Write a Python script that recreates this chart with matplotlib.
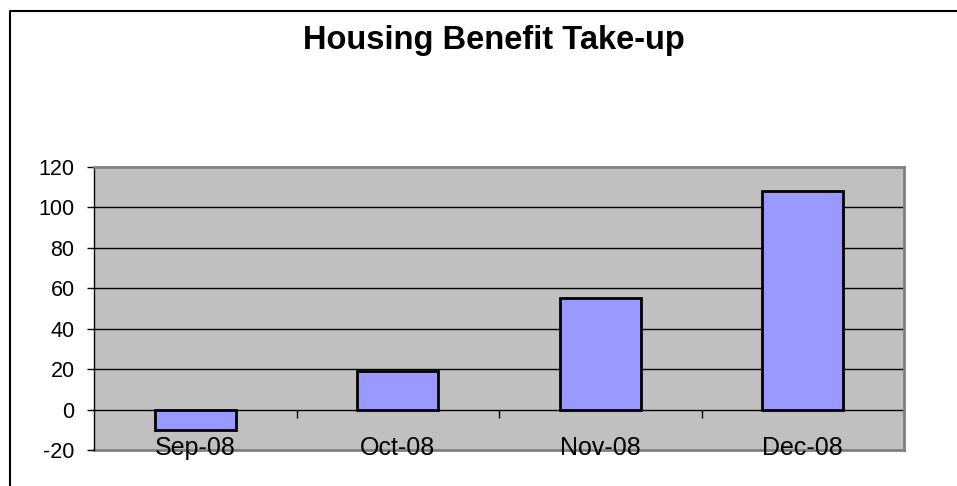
import matplotlib
matplotlib.use("Agg")
import matplotlib.pyplot as plt
from matplotlib.lines import Line2D

categories = ["Sep-08", "Oct-08", "Nov-08", "Dec-08"]
values = [-10, 19, 55, 108]
y_ticks = [-20, 0, 20, 40, 60, 80, 100, 120]
title = "Housing Benefit Take-up"

plt.rcParams['font.family'] = ['Liberation Sans', 'DejaVu Sans']

W, H = 957, 486
fig = plt.figure(figsize=(W / 100, H / 100), dpi=100)
fig.patch.set_facecolor('white')

left, right, top, bottom = 94, 904, 167, 450
ax = fig.add_axes([left / W, 1 - bottom / H, (right - left) / W, (bottom - top) / H])
ax.set_facecolor('#C0C0C0')

x = list(range(len(categories)))
ax.bar(x, values, width=0.4, color='#9999FF', edgecolor='black', linewidth=2, zorder=3)

ax.set_xlim(-0.5, len(categories) - 0.5)
ax.set_ylim(-20, 120)
ax.set_yticks(y_ticks)
ax.set_yticklabels([str(v) for v in y_ticks], fontsize=15.5)
ax.tick_params(axis='y', direction='out', length=5, width=1, pad=9, color='black')

for v in y_ticks[2:-1]:
    ax.axhline(v, color='black', linewidth=1, zorder=1)

for s in ['top', 'right']:
    ax.spines[s].set_color('#808080')
    ax.spines[s].set_linewidth(2)
ax.spines['left'].set_color('black')
ax.spines['left'].set_linewidth(1)
ax.spines['bottom'].set_position(('data', 0))
ax.spines['bottom'].set_color('black')
ax.spines['bottom'].set_linewidth(1)
ax.spines['bottom'].set_zorder(2)
ax.axhline(-20, color='#808080', linewidth=2, clip_on=False, zorder=0.5)

ax.set_xticks([i + 0.5 for i in x[:-1]] + [len(categories) - 0.5])
ax.set_xticklabels([])
ax.set_xticks(x, minor=True)
ax.set_xticklabels(categories, minor=True, fontsize=18)
ax.tick_params(axis='x', which='major', direction='out', length=5.5, width=1, color='black')
ax.tick_params(axis='x', which='minor', length=0, pad=19)

fig.text(493.5 / W, 1 - 49 / H, title, ha='center', va='baseline',
         fontsize=23.5, fontweight='bold')

fig.add_artist(Line2D([10 / W, 10 / W, 1.0], [0.0, 1 - 11.5 / H, 1 - 11.5 / H],
                      transform=fig.transFigure, color='black', linewidth=1.5))

fig.savefig('out.png', dpi=100)
